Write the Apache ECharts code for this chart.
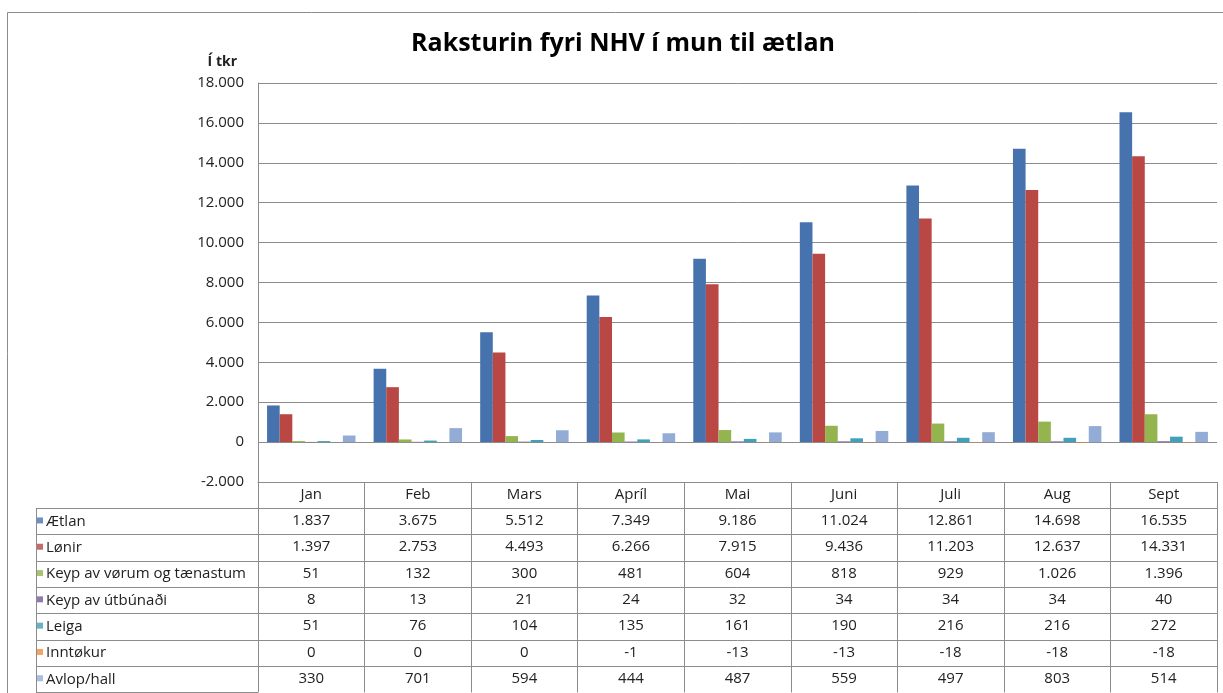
<!DOCTYPE html>
<html>
<head>
<meta charset="utf-8">
<script src="https://cdn.jsdelivr.net/npm/echarts@6/dist/echarts.min.js"></script>
<style>
  html, body { margin: 0; padding: 0; background: #fff; }
  #chart { width: 1223px; height: 693px; }
</style>
</head>
<body>
<div id="chart"></div>
<script>
// mánaðir
const months = ['Jan', 'Feb', 'Mars', 'Apríl', 'Mai', 'Juni', 'Juli', 'Aug', 'Sept']
const seriesNames = ['Ætlan', 'Lønir', 'Keyp av vørum og tænastum', 'Keyp av útbúnaði', 'Leiga', 'Inntøkur', 'Avlop/hall']
const aetlan = [1837, 3675, 5512, 7349, 9186, 11024, 12861, 14698, 16535]
const lonir = [1397, 2753, 4493, 6266, 7915, 9436, 11203, 12637, 14331]
const keypVorur = [51, 132, 300, 481, 604, 818, 929, 1026, 1396]
const keypUtbunad = [8, 13, 21, 24, 32, 34, 34, 34, 40]
const leiga = [51, 76, 104, 135, 161, 190, 216, 216, 272]
const inntokur = [0, 0, 0, -1, -13, -13, -18, -18, -18]
const avlop = [330, 701, 594, 444, 487, 559, 497, 803, 514]
const yTicks = [-2000, 0, 2000, 4000, 6000, 8000, 10000, 12000, 14000, 16000, 18000]

const rows = [aetlan, lonir, keypVorur, keypUtbunad, leiga, inntokur, avlop]
const colors = ['#4673ae', '#b94744', '#93b44f', '#76599a', '#43a0b9', '#f08c3c', '#93acd6']

const font = 'Open Sans'
const lineColor = '#8c8c8c'
const rowH = 26.3

// 1837 -> "1.837"
function fmt(v) {
  let s = String(Math.abs(v)).replace(/\B(?=(\d{3})+(?!\d))/g, '.')
  return (v < 0 ? '-' : '') + s
}

let chart = echarts.init(document.getElementById('chart'))

// talvan undir myndini: eitt x-ás fyri hvørja røð
let tableAxes = rows.map((r, k) => ({
  type: 'category',
  gridIndex: 0,
  position: 'bottom',
  offset: rowH * (k + 1),
  data: months,
  axisLine: { show: true, onZero: false, lineStyle: { color: lineColor } },
  axisTick: { show: true, length: rowH, interval: 0, lineStyle: { color: lineColor } },
  axisLabel: {
    interval: 0, margin: 5, color: '#222', fontFamily: font, fontSize: 15,
    formatter: (v, i) => fmt(r[i])
  },
  splitLine: { show: false }
}))
let keyAxisIndex = tableAxes.length + 1

let series = rows.map((r, i) => ({
  name: seriesNames[i],
  type: 'bar',
  xAxisIndex: 0,
  yAxisIndex: 0,
  barGap: '0%',
  barCategoryGap: '17%',
  itemStyle: { color: colors[i] },
  data: r
}))
// litlu fýrkantarnir í vinstru kolonnuni
series.push({
  type: 'scatter',
  xAxisIndex: keyAxisIndex,
  yAxisIndex: 1,
  symbol: 'rect',
  symbolSize: 6,
  symbolOffset: [4, -1],
  silent: true,
  data: seriesNames.map((n, i) => ({ value: [0, n], itemStyle: { color: colors[i] } }))
})

let option = {
  animation: false,
  textStyle: { fontFamily: font },
  title: {
    text: 'Raksturin fyri NHV í mun til ætlan',
    left: 618,
    textAlign: 'center',
    top: 26,
    textStyle: { fontFamily: font, fontSize: 25, fontWeight: 'bold', color: '#000' }
  },
  graphic: [{
    type: 'rect',
    shape: { x: 7.5, y: 12.5, width: 1300, height: 800 },
    style: { fill: 'none', stroke: lineColor, lineWidth: 1 },
    silent: true
  }],
  grid: [
    { left: 258, top: 83, width: 959, height: 399 },
    { left: 36, top: 508.3, width: 222, height: rowH * 7 }
  ],
  xAxis: [{
    type: 'category',
    gridIndex: 0,
    position: 'bottom',
    data: months,
    axisLine: { show: true, onZero: false, lineStyle: { color: lineColor } },
    axisTick: { show: true, length: rowH, interval: 0, lineStyle: { color: lineColor } },
    axisLabel: { interval: 0, margin: 5, color: '#222', fontFamily: font, fontSize: 15 },
    splitLine: { show: false }
  }].concat(tableAxes).concat([{
    type: 'value',
    gridIndex: 1,
    min: 0,
    max: 1,
    show: false
  }]),
  yAxis: [{
    type: 'value',
    gridIndex: 0,
    min: yTicks[0],
    max: yTicks[yTicks.length - 1],
    interval: yTicks[1] - yTicks[0],
    name: 'Í tkr',
    nameLocation: 'end',
    nameGap: 14,
    nameTextStyle: { fontFamily: font, fontSize: 14, fontWeight: 'bold', color: '#222', align: 'right', padding: [0, 21, 0, 0] },
    axisLine: { show: true, lineStyle: { color: lineColor } },
    axisTick: { show: false },
    axisLabel: { margin: 14, color: '#222', fontFamily: font, fontSize: 15, formatter: v => fmt(v) },
    splitLine: { show: true, lineStyle: { color: lineColor, width: 1 } }
  }, {
    type: 'category',
    gridIndex: 1,
    inverse: true,
    data: seriesNames,
    axisLine: { show: true, lineStyle: { color: lineColor } },
    axisTick: { show: false },
    splitLine: { show: true, interval: 0, lineStyle: { color: lineColor } },
    axisLabel: {
      inside: true, interval: 0, margin: 10, align: 'left',
      color: '#222', fontFamily: font, fontSize: 15
    }
  }],
  series: series
}

chart.setOption(option)
</script>
</body>
</html>
